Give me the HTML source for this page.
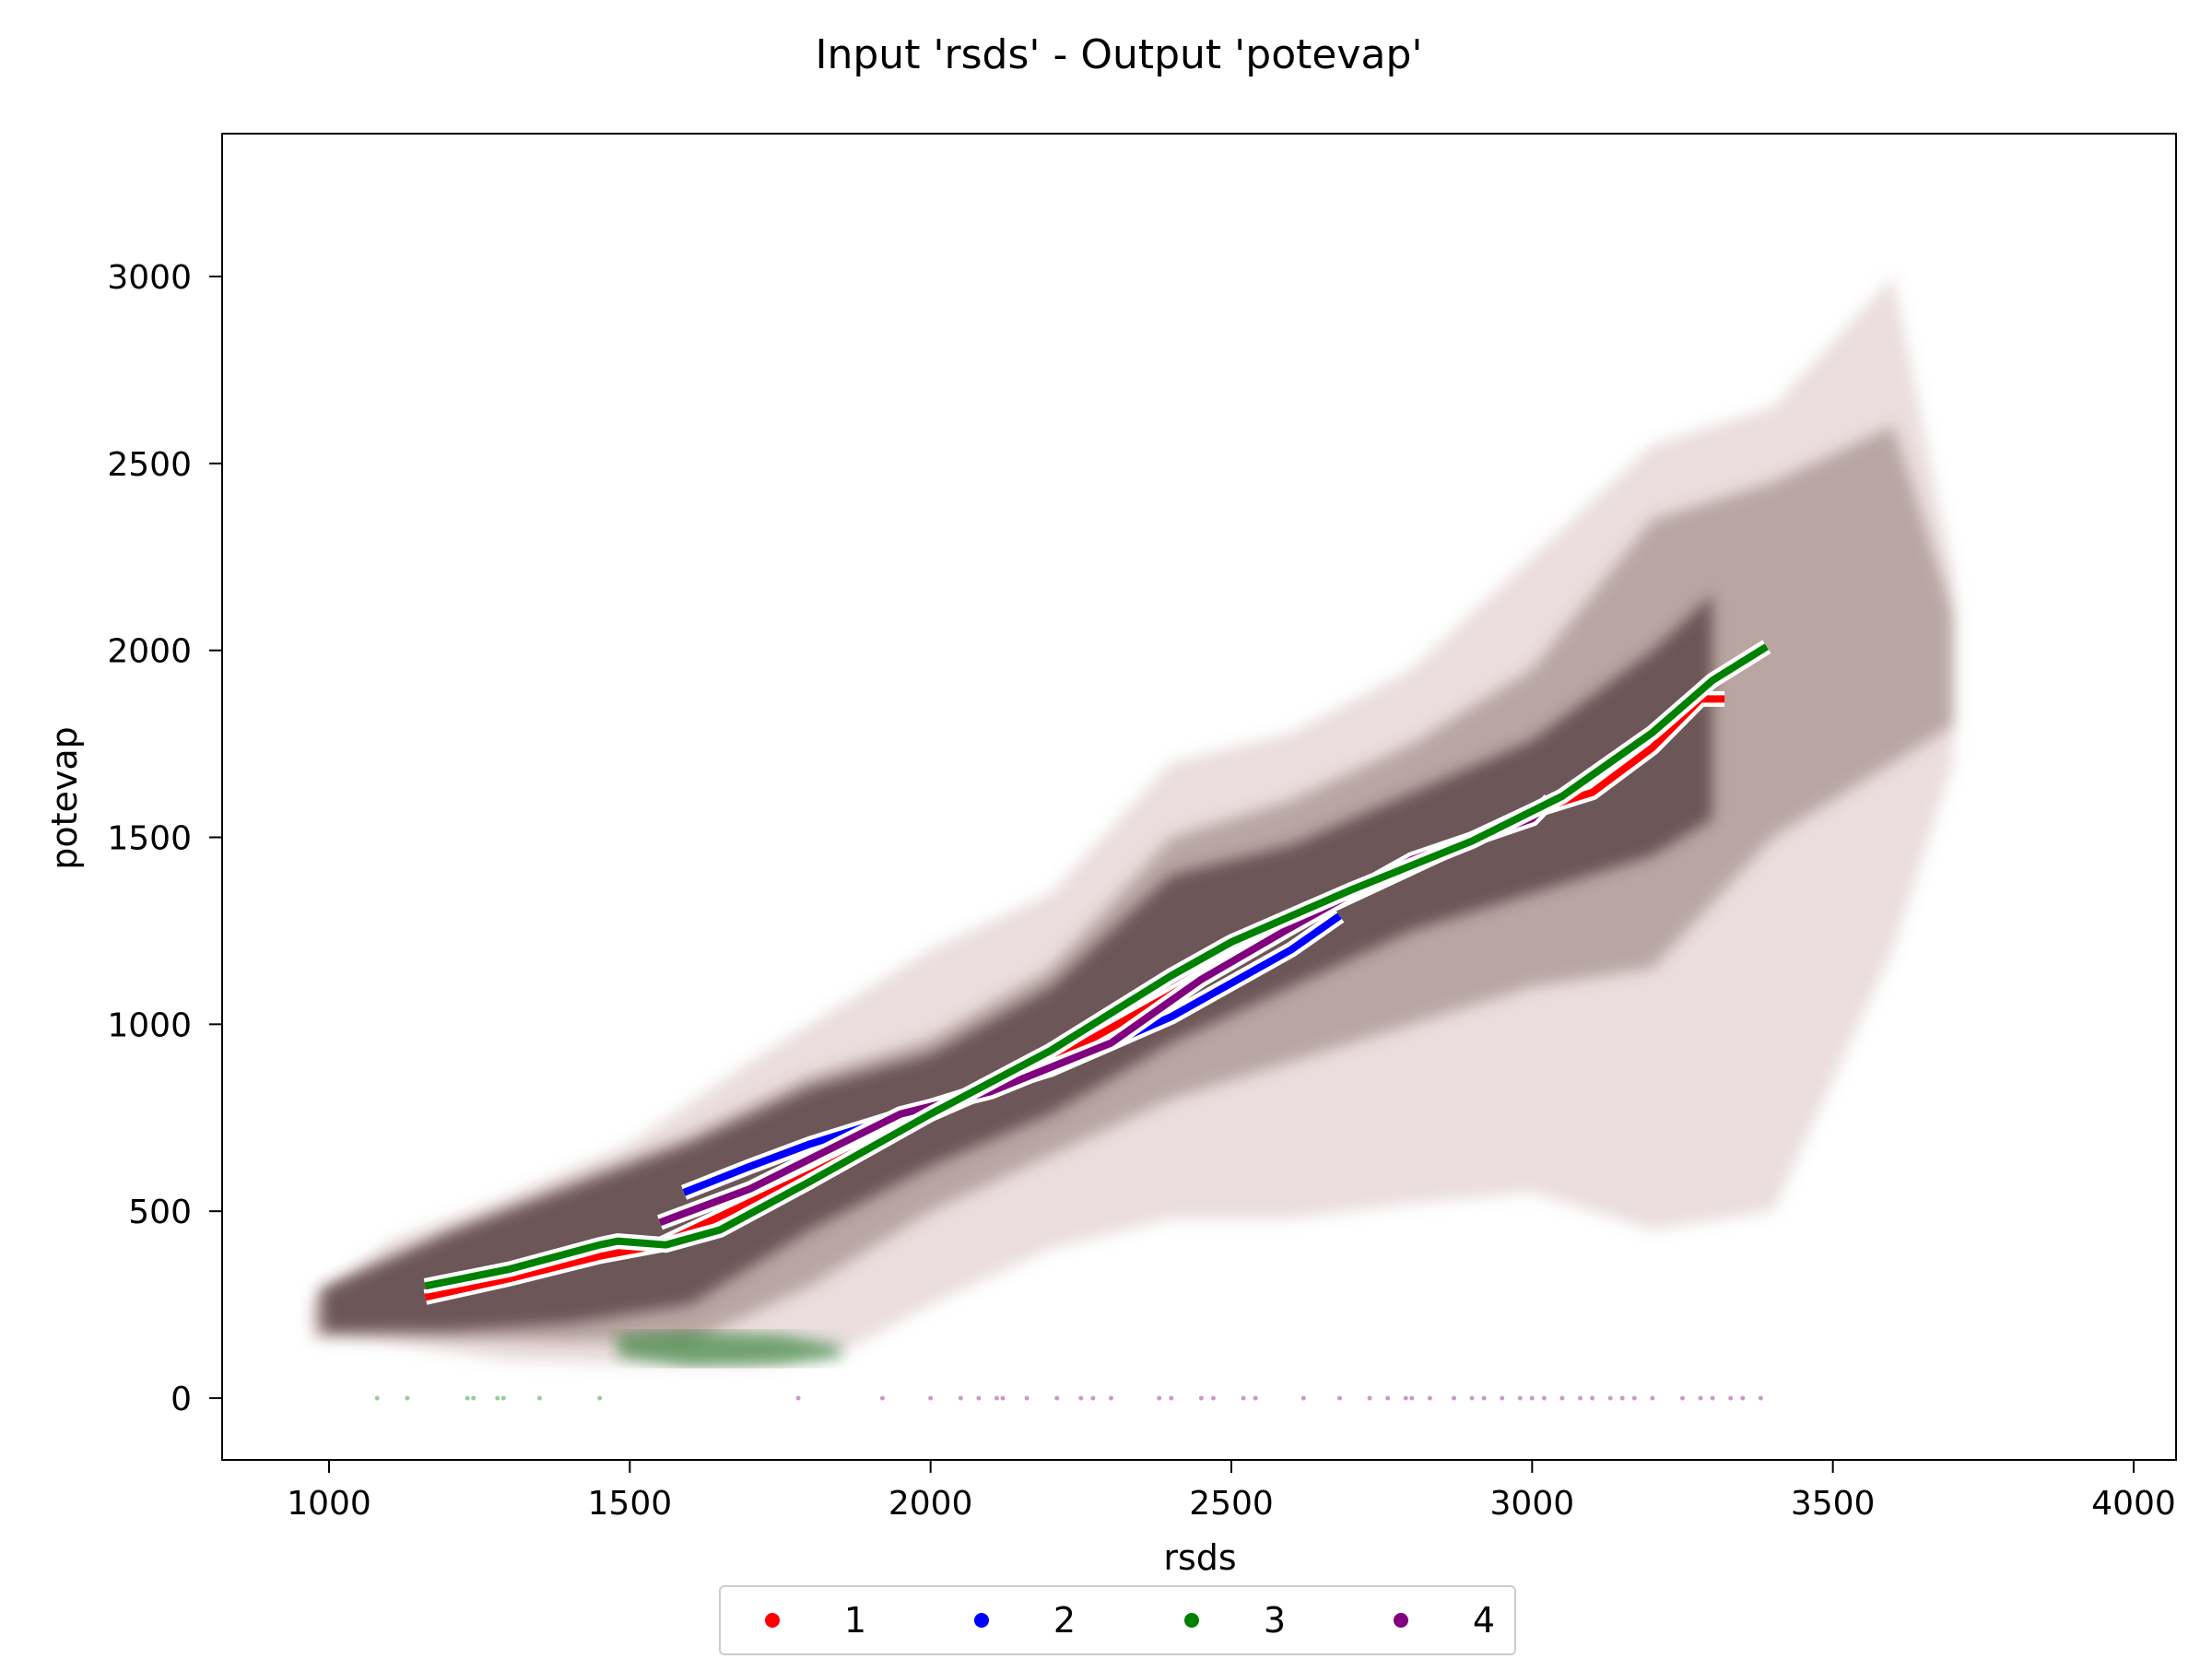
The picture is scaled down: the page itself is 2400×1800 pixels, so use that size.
<!DOCTYPE html>
<html><head><meta charset="utf-8"><style>
body{margin:0;background:#fff;}
svg{display:block;font-family:"DejaVu Sans","Liberation Sans",sans-serif;}
</style></head><body>
<svg id="chart" width="2400" height="1800" viewBox="0 0 2400 1800">
<defs><filter id="soft" x="-5%" y="-5%" width="110%" height="110%"><feGaussianBlur stdDeviation="8"/></filter>
<clipPath id="plotclip"><rect x="241" y="145" width="2120" height="1439"/></clipPath></defs>
<text x="1214" y="74" font-size="44" text-anchor="middle">Input 'rsds' - Output 'potevap'</text>
<g id="plot" clip-path="url(#plotclip)"></g>
<rect x="241" y="145" width="2120" height="1439" fill="none" stroke="#000" stroke-width="2"/>
<g id="xticks"></g>
<g id="yticks"></g>
<text x="1302" y="1703" font-size="38" text-anchor="middle">rsds</text>
<text x="0" y="0" font-size="38" text-anchor="middle" transform="translate(83,866) rotate(-90)">potevap</text>
<g>
<rect x="781" y="1721" width="863" height="74" rx="5" fill="#fff" stroke="#ccc" stroke-width="2"/>
<g><circle cx="838" cy="1758" r="8" fill="red"/><text x="928" y="1771" font-size="38" text-anchor="middle">1</text></g>
<g><circle cx="1065" cy="1758" r="8" fill="blue"/><text x="1155" y="1771" font-size="38" text-anchor="middle">2</text></g>
<g><circle cx="1293" cy="1758" r="8" fill="green"/><text x="1383" y="1771" font-size="38" text-anchor="middle">3</text></g>
<g><circle cx="1520" cy="1758" r="8" fill="purple"/><text x="1610" y="1771" font-size="38" text-anchor="middle">4</text></g>
</g>
</svg>
<script>
const xTicks=[1000,1500,2000,2500,3000,3500,4000];
const yTicks=[0,500,1000,1500,2000,2500,3000];
// cloud envelopes (data units)
const envX=[970,1100,1300,1500,1700,1850,2000,2200,2400,2600,2800,3000,3200,3400,3600,3700];
const envUpper=[250,420,540,680,900,1050,1200,1350,1700,1780,1950,2250,2550,2650,3000,2200];
const envLower=[160,150,100,90,85,120,250,400,480,480,520,550,450,500,1200,1700];
const midX=[980,1200,1400,1600,1800,2000,2200,2400,2600,2800,3000,3200,3400,3600,3700];
const midUpper=[290,450,580,700,860,960,1150,1500,1600,1750,1950,2350,2450,2600,2100];
const midLower=[170,160,150,150,300,500,650,800,900,1000,1100,1150,1500,1700,1800];
const coreX=[990,1200,1400,1600,1800,2000,2200,2400,2600,2800,3000,3200,3300];
const coreUpper=[290,440,560,680,830,920,1100,1400,1480,1620,1760,2000,2150];
const coreLower=[180,180,200,250,450,620,760,950,1100,1250,1350,1450,1550];
const blobX=[1480,1600,1750,1850];
const blobUpper=[170,180,170,140];
const blobLower=[110,85,90,110];
// series mean curves
const s1x=[1160,1300,1450,1550,1800,2000,2200,2400,2600,2800,3000,3100,3200,3280,3320];
const s1y=[270,320,380,410,600,760,900,1080,1270,1420,1570,1620,1740,1870,1870];
const s2x=[1590,1700,1800,2000,2200,2400,2600,2680];
const s2y=[550,620,680,780,880,1020,1200,1290];
const s3x=[1160,1300,1450,1480,1560,1650,1800,2000,2200,2400,2500,2700,2900,3050,3200,3300,3390];
const s3y=[300,345,410,420,410,450,580,760,930,1130,1220,1360,1490,1610,1780,1920,2010];
const s4x=[1550,1700,1800,1950,2100,2300,2450,2600,2700,2800,3000,3030];
const s4y=[470,560,640,760,820,950,1120,1260,1350,1440,1550,1600];
const zeroX=[1080,1130,1230,1240,1280,1290,1350,1450,1780,1920,2000,2050,2080,2110,2120,2160,2210,2250,2270,2300,2380,2400,2450,2470,2520,2540,2620,2680,2730,2760,2790,2800,2830,2870,2900,2920,2950,2980,3000,3020,3050,3080,3100,3130,3150,3170,3200,3250,3280,3300,3330,3350,3380];
const zeroG=[3,3,3,3,3,3,3,3,4,4,4,4,4,4,4,4,4,4,4,4,4,4,4,4,4,4,4,4,4,4,4,4,4,4,4,4,4,4,4,4,4,4,4,4,4,4,4,4,4,4,4,4,4];
const X=v=>357+(v-1000)*(1958/3000);
const Y=v=>1517-v*(1217/3000);
const NS='http://www.w3.org/2000/svg';
const plot=document.getElementById('plot');
function mk(tag,attrs,parent){const e=document.createElementNS(NS,tag);for(const k in attrs)e.setAttribute(k,attrs[k]);parent.appendChild(e);return e;}
function band(xs,up,lo,fill,name){
  let pts=xs.map((x,i)=>X(x)+','+Y(up[i]));
  for(let i=xs.length-1;i>=0;i--)pts.push(X(xs[i])+','+Y(lo[i]));
  const p=mk('polygon',{points:pts.join(' '),fill:fill,filter:'url(#soft)'},plot);
  
  
}
band(envX,envUpper,envLower,'rgba(170,120,120,0.25)','scatter-cloud-outer');
band(midX,midUpper,midLower,'rgba(110,85,75,0.4)','scatter-cloud-mid');
band(coreX,coreUpper,coreLower,'rgba(75,50,55,0.7)','scatter-cloud-core');
band(blobX,blobUpper,blobLower,'rgba(30,120,40,0.6)','scatter-cloud-low-blob');
const gcol={1:'red',2:'blue',3:'green',4:'purple'};
zeroX.forEach((x,i)=>{
  const c=mk('circle',{cx:X(x),cy:Y(0),r:2.5,fill:gcol[zeroG[i]],'fill-opacity':0.4},plot);
  
  
});
function line(xs,ys,color,name){
  const d=xs.map((x,i)=>(i?'L':'M')+X(x)+' '+Y(ys[i])).join(' ');
  const g=mk('g',{},plot);
  
  
  mk('path',{d:d,fill:'none',stroke:'#fff','stroke-width':17},g);
  mk('path',{d:d,fill:'none',stroke:color,'stroke-width':8,'stroke-linejoin':'round'},g);
}
line(s2x,s2y,'blue','series-2-line');
line(s1x,s1y,'red','series-1-line');
line(s4x,s4y,'purple','series-4-line');
line(s3x,s3y,'green','series-3-line');
const xt=document.getElementById('xticks');
xTicks.forEach(v=>{
  const l=mk('line',{x1:X(v),x2:X(v),y1:1584,y2:1598,stroke:'#000','stroke-width':2},xt);
  
  
  const t=mk('text',{x:X(v),y:1643,'font-size':36,'text-anchor':'middle'},xt);
  t.textContent=v;
  
  
});
const yt=document.getElementById('yticks');
yTicks.forEach(v=>{
  const l=mk('line',{x1:227,x2:241,y1:Y(v),y2:Y(v),stroke:'#000','stroke-width':2},yt);
  
  
  const t=mk('text',{x:208,y:Y(v)+13,'font-size':36,'text-anchor':'end'},yt);
  t.textContent=v;
  
  
});
</script>
</body></html>
